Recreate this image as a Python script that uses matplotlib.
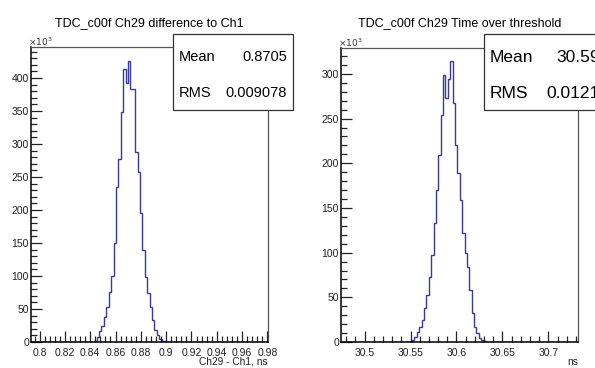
import numpy as np
import matplotlib
matplotlib.use('Agg')
import matplotlib.pyplot as plt
from matplotlib.ticker import MultipleLocator
from matplotlib.patches import Rectangle

plt.rcParams['font.family'] = ['Liberation Sans', 'DejaVu Sans']

# Histogram 1: Ch29 - Ch1 (counts in units of 10^3)
diff_lo = 0.8432
diff_width = 0.0019
diff_counts = [2, 7.5, 17, 25, 38, 53, 76, 100, 150, 235, 278, 349, 413, 392,
               426, 384, 384, 288, 258, 195, 139, 99, 74, 53, 33, 18, 10, 5,
               2, 1]
diff_title = "TDC_c00f Ch29 difference to Ch1"
diff_xlabel = "Ch29 - Ch1, ns"
diff_stats = [("Mean", "0.8705"), ("RMS", "0.009078")]

# Histogram 2: time over threshold (counts in units of 10^3)
tot_lo = 30.549
tot_width = 0.0026
tot_counts = [1, 2, 6, 11, 17, 25, 38, 53, 73, 97, 133, 170, 209, 254, 299,
              273, 294, 315, 268, 220, 189, 159, 122, 100, 84, 58, 32, 17,
              10, 5, 2, 1]
tot_title = "TDC_c00f Ch29 Time over threshold"
tot_xlabel = "ns"
tot_stats = [("Mean", "30.59"), ("RMS", "0.0121")]

W, H = 595., 368.
LINE = '#3a3a9c'


def draw_hist(fig, rect, lo, width, counts, xlim, ylim, xmajor, xminor,
              ymajor, yminor, title, xlabel, stats, box, stat_size, val_pad):
    x0, y0, x1, y1 = rect
    ax = fig.add_axes([x0 / W, 1 - y1 / H, (x1 - x0) / W, (y1 - y0) / H])
    edges = lo + width * np.arange(len(counts) + 1)
    ax.stairs(counts, edges, color=LINE, lw=1.0)
    ax.plot([xlim[0], edges[0]], [0, 0], color=LINE, lw=1.0)
    ax.plot([edges[-1], xlim[1]], [0, 0], color=LINE, lw=1.0)
    ax.set_xlim(*xlim)
    ax.set_ylim(*ylim)
    ax.xaxis.set_major_locator(MultipleLocator(xmajor))
    ax.xaxis.set_minor_locator(MultipleLocator(xminor))
    ax.yaxis.set_major_locator(MultipleLocator(ymajor))
    ax.yaxis.set_minor_locator(MultipleLocator(yminor))
    ax.xaxis.set_major_formatter(
        lambda v, p: ("%.2f" % v).rstrip('0').rstrip('.'))
    ax.yaxis.set_major_formatter(lambda v, p: "%d" % v)
    ax.tick_params(which='both', direction='in', top=False, right=False,
                   labelsize=7.5, width=0.9, colors='#222222')
    ax.tick_params(axis='x', pad=4)
    ax.tick_params(axis='y', pad=1.5)
    ax.tick_params(which='major', length=8)
    ax.tick_params(which='minor', length=4)
    for s in ('left', 'bottom'):
        ax.spines[s].set_linewidth(1.1)
    for s in ('top', 'right'):
        ax.spines[s].set_color('#555555')
        ax.spines[s].set_linewidth(0.9)
    fig.text((x0 + x1) / 2 / W, 1 - 23 / H, title, ha='center', va='center',
             fontsize=9)
    fig.text(x1 / W, 1 - 362 / H, xlabel, ha='right', va='center',
             fontsize=7.3, color='#222222')
    fig.text((x0 - 3) / W, 1 - (y0 - 5) / H, r"$\times10^3$", ha='left',
             va='center', fontsize=6.5, color='#333333')
    bx0, by0, bx1, by1 = box
    fig.patches.append(Rectangle((bx0 / W, 1 - by1 / H), (bx1 - bx0) / W,
                                 (by1 - by0) / H, transform=fig.transFigure,
                                 facecolor='white', edgecolor='#333333',
                                 lw=0.9, zorder=5))
    for i, (name, val) in enumerate(stats):
        yy = 1 - (57 + 36 * i) / H
        fig.text((bx0 + 6) / W, yy, name, ha='left', va='center',
                 fontsize=stat_size, zorder=6)
        fig.text((bx1 - val_pad) / W, yy, val, ha='right', va='center',
                 fontsize=stat_size, zorder=6)
    return ax


fig = plt.figure(figsize=(5.95, 3.68), dpi=100)
draw_hist(fig, (31, 47, 268, 342), diff_lo, diff_width, diff_counts,
          (0.7932, 0.9805), (0, 447), 0.02, 0.004, 50, 10,
          diff_title, diff_xlabel, diff_stats, (173, 34, 293, 110), 10.5, 6)
draw_hist(fig, (341, 48, 578, 342), tot_lo, tot_width, tot_counts,
          (30.4743, 30.7323), (0, 329), 0.05, 0.01, 50, 10,
          tot_title, tot_xlabel, tot_stats, (484, 34, 640, 110), 12.5, 40)
fig.savefig('out.png', dpi=100)
